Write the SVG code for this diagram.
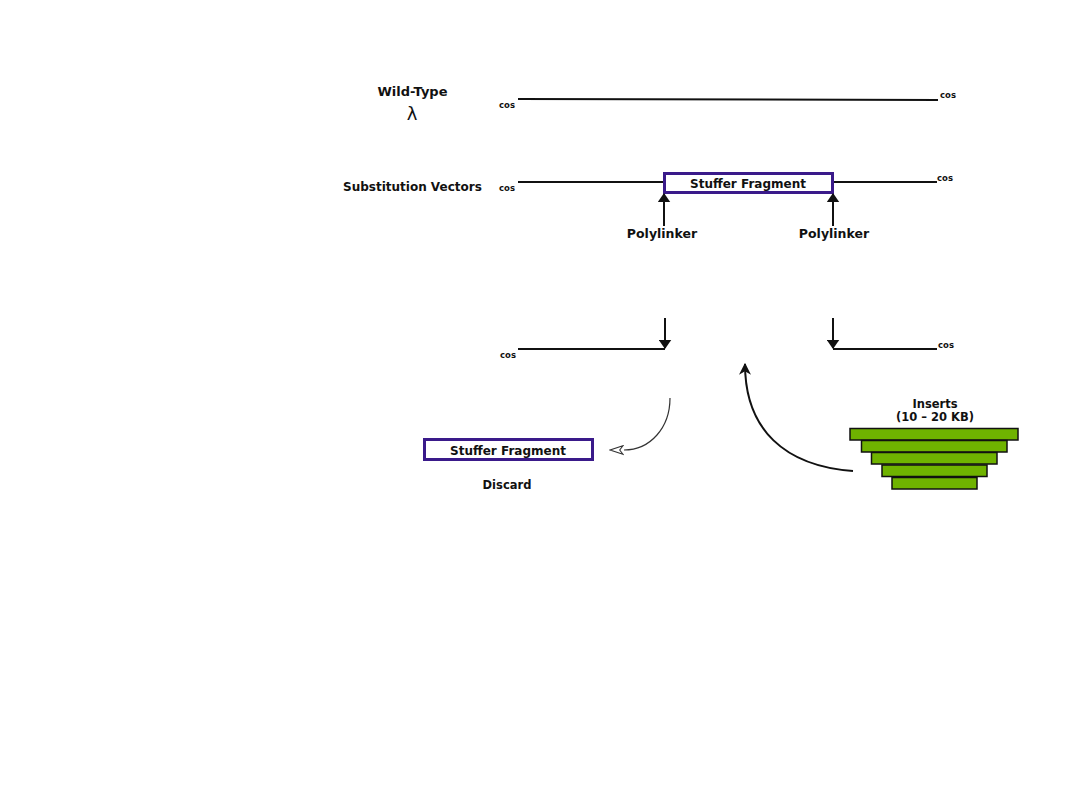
<svg xmlns="http://www.w3.org/2000/svg" width="1080" height="810" viewBox="0 0 1080 810">
<style>
text{font-family:"DejaVu Sans","Liberation Sans",sans-serif;font-weight:bold;fill:#111;}
.lbl{font-size:12px;}
.poly{font-size:12.5px;}
.cos{font-size:8.5px;}
.dna{stroke:#111;stroke-width:2;fill:none;}
.box{fill:#fff;stroke:#3a1a8a;stroke-width:3;}
.bar{fill:#6fb300;stroke:#111;stroke-width:1.5;}
</style>
<defs>
<marker id="ah" viewBox="0 0 10 14" refX="9" refY="7" markerWidth="9" markerHeight="13" markerUnits="userSpaceOnUse" orient="auto"><path d="M0,0 L10,7 L0,14 z" fill="#111"/></marker>
<marker id="ahbig" viewBox="0 0 10 10" refX="9" refY="5" markerWidth="12" markerHeight="12" markerUnits="userSpaceOnUse" orient="auto"><path d="M0,0 L10,5 L0,10 L3,5 z" fill="#111"/></marker>
<marker id="open" viewBox="0 0 14 10" refX="0" refY="5" markerWidth="15" markerHeight="11" markerUnits="userSpaceOnUse" orient="auto"><path d="M1,1 L13,5 L1,9 L4,5 z" fill="#fff" stroke="#333" stroke-width="1"/></marker>
</defs>
<rect width="1080" height="810" fill="#fff"/>

<g id="wildtype">
<text x="412.5" y="96" text-anchor="middle" style="font-size:13px">Wild-Type</text>
<text x="412" y="120" text-anchor="middle" style="font-size:18px;font-weight:normal">λ</text>
<line class="dna" x1="518" y1="99" x2="938" y2="100"/>
<text class="cos" x="499" y="108">cos</text>
<text class="cos" x="940" y="98">cos</text>
</g>

<g id="substitution">
<text class="lbl" x="343" y="191">Substitution Vectors</text>
<line class="dna" x1="518" y1="182" x2="664" y2="182"/>
<line class="dna" x1="833" y1="182" x2="937" y2="182"/>
<text class="cos" x="499" y="191">cos</text>
<text class="cos" x="937" y="181">cos</text>
</g>

<g id="stuffer1">
<rect class="box" x="664.5" y="173.5" width="168" height="19"/>
<text class="lbl" x="748" y="188" text-anchor="middle">Stuffer Fragment</text>
</g>

<g id="polylinker1">
<text class="poly" x="662" y="238" text-anchor="middle">Polylinker</text>
</g>
<g id="polylinker2">
<text class="poly" x="834" y="238" text-anchor="middle">Polylinker</text>
</g>

<g id="arms">
<line class="dna" x1="518" y1="349" x2="665" y2="349"/>
<line class="dna" x1="833" y1="349" x2="937" y2="349"/>
<text class="cos" x="500" y="358">cos</text>
<text class="cos" x="938" y="348">cos</text>
</g>

<g id="stuffer2">
<rect class="box" x="424.5" y="439.5" width="168" height="20"/>
<text class="lbl" x="508" y="455" text-anchor="middle">Stuffer Fragment</text>
<text class="lbl" x="507" y="489" text-anchor="middle" style="font-size:11.5px">Discard</text>
</g>

<g id="inserts">
<text class="lbl" x="935" y="408" text-anchor="middle" style="font-size:11.5px">Inserts</text>
<text class="lbl" x="935" y="421" text-anchor="middle" style="font-size:11.5px">(10 – 20 KB)</text>
<rect class="bar" x="850" y="428.5" width="168" height="11.5"/>
<rect class="bar" x="861.5" y="440.5" width="145.5" height="11.5"/>
<rect class="bar" x="871.5" y="452.5" width="125.5" height="11.5"/>
<rect class="bar" x="882" y="465" width="105" height="11.5"/>
<rect class="bar" x="892" y="477.5" width="85" height="11.5"/>
</g>

<g id="connectors">
<line class="dna" x1="664" y1="226" x2="664" y2="194" marker-end="url(#ah)"/>
<line class="dna" x1="833" y1="226" x2="833" y2="194" marker-end="url(#ah)"/>
<line class="dna" x1="665" y1="318" x2="665" y2="348" marker-end="url(#ah)"/>
<line class="dna" x1="833" y1="318" x2="833" y2="348" marker-end="url(#ah)"/>
<path d="M670,398 C670,428 650,450 624,450" fill="none" stroke="#333" stroke-width="1.2" marker-end="url(#open)"/>
<path d="M853,471 C785,466 745,430 745,364" fill="none" stroke="#111" stroke-width="2" marker-end="url(#ahbig)"/>
</g>
</svg>
